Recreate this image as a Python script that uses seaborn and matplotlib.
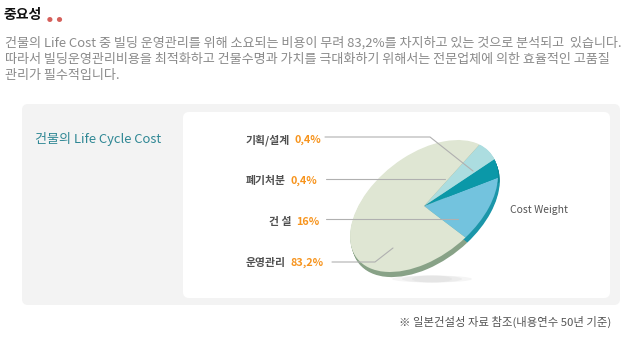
import matplotlib.pyplot as plt
import seaborn as sns
from matplotlib.patches import FancyBboxPatch, Ellipse
from matplotlib.transforms import Affine2D

# ---- data ----
segments = ["건 설", "폐기처분", "기획/설계", "운영관리"]
reported_pct = ["16%", "0,4%", "0,4%", "83,2%"]
# slice sizes as drawn in the picture (the small ones are exaggerated there)
drawn_share = [15.0, 5.5, 6.5, 73.0]
top_colors = ["#73c3de", "#0b98a8", "#acdde0", "#dfe6d3"]
side_colors = ["#1b96a9", "#0a8896", "#8ec9cc", "#88a287"]

title = "중요성"
intro_lines = [
    "건물의 Life Cost 중 빌딩 운영관리를 위해 소요되는 비용이 무려 83,2%를 차지하고 있는 것으로 분석되고  있습니다.",
    "따라서 빌딩운영관리비용을 최적화하고 건물수명과 가치를 극대화하기 위해서는 전문업체에 의한 효율적인 고품질",
    "관리가 필수적입니다.",
]
panel_title = "건물의 Life Cycle Cost"
pie_caption = "Cost Weight"
source_note = "※ 일본건설성 자료 참조(내용연수 50년 기준)"

# label layout: (segment index, name x, name y, leader path)
label_layout = [
    (2, 246, 140, [(325, 137), (430, 137), (473, 171)]),
    (1, 246, 181, [(326, 179), (445, 179)]),
    (0, 269, 222, [(326, 219), (458, 219)]),
    (3, 246, 263, [(332, 262), (375, 262), (393, 248)]),
]

# pie geometry (image pixel coordinates)
CX, CY = 424, 206
RX, RY = 85, 51
TILT = 38
START = -81

sns.set_theme(style="white")
plt.rcParams["font.family"] = ["Noto Sans CJK KR", "DejaVu Sans"]

fig = plt.figure(figsize=(6.28, 3.39), dpi=100)
ax = fig.add_axes([0, 0, 1, 1])


def pie_layer(colors, dx=0.0, dy=0.0, z=3):
    wedges, _ = ax.pie(drawn_share, colors=colors, startangle=START,
                       counterclock=True, wedgeprops=dict(linewidth=0))
    tr = (Affine2D().scale(RX, RY).rotate_deg(TILT).scale(1, -1)
          .translate(CX + dx, CY + dy) + ax.transData)
    for w in wedges:
        w.set_transform(tr)
        w.set_zorder(z)
    return wedges


# panels
ax.add_patch(FancyBboxPatch((22, 104), 598, 201, boxstyle="round,pad=0,rounding_size=6",
                            fc="#f3f3f3", ec="none", zorder=0))
ax.add_patch(FancyBboxPatch((183, 112), 427, 186, boxstyle="round,pad=0,rounding_size=6",
                            fc="white", ec="none", zorder=0.5))

# soft shadow under the pie
for w, a in [(80, 0.25), (60, 0.3), (40, 0.35)]:
    ax.add_patch(Ellipse((432, 279), w, 7, fc="#d8d8d8", ec="none", alpha=a, zorder=1))

# 3D side, then top face
for k in range(1, 7):
    pie_layer(side_colors, dx=0.3 * k, dy=0.85 * k, z=2)
pie_layer(top_colors, z=3)

# leader lines and labels
for idx, nx, ny, path in label_layout:
    xs, ys = zip(*path)
    ax.plot(xs, ys, color="#b0b0b0", lw=0.8, zorder=4)
    name = ax.text(nx, ny, segments[idx], fontsize=7.8, weight="bold",
                   color="#505050", va="center", ha="left", zorder=5)
    ax.annotate(reported_pct[idx], xy=(1, 0.5), xycoords=name, xytext=(3, 0),
                textcoords="offset points", fontsize=7.8, weight="bold",
                color="#f7941d", va="center", ha="left", zorder=5)

# texts
ax.text(4, 15, title, fontsize=10, weight="bold", color="#111111", va="center")
ax.text(47, 20.5, "●   ●", fontsize=4.2, color="#d5605b", va="center")
for i, line in enumerate(intro_lines):
    ax.text(5, 43 + 16.5 * i, line, fontsize=9.45, color="#8a8a8a", va="center")
ax.text(35, 139, panel_title, fontsize=9.4, color="#2e8794", va="center")
ax.text(510, 210, pie_caption, fontsize=7.5, color="#555555", va="center")
ax.text(611, 322, source_note, fontsize=8.2, color="#555555", va="center", ha="right")

ax.set_xlim(0, 628)
ax.set_ylim(339, 0)
ax.set_aspect("auto")
ax.axis("off")

fig.savefig("out.png", dpi=100, facecolor="white")
